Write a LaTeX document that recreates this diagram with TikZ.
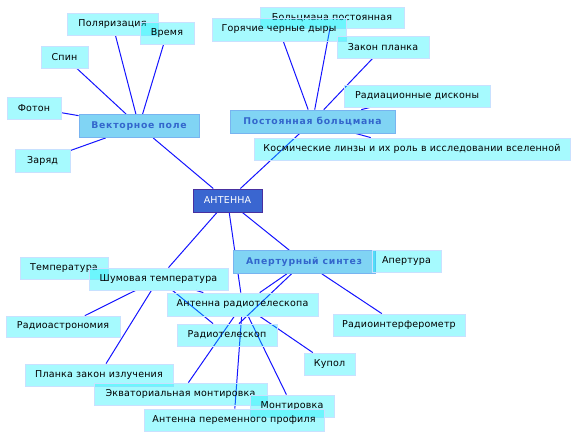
\documentclass[tikz,border=0pt]{standalone}
\usepackage{fontspec}
\setmainfont{DejaVu Sans}[LetterSpace=2]
\newfontfamily\topicfont[LetterSpace=8]{DejaVu Sans}
\usetikzlibrary{positioning}
\definecolor{leafcolor}{RGB}{0,240,252}
\definecolor{leafborder}{RGB}{200,225,255}
\definecolor{topiccolor}{RGB}{128,212,244}
\definecolor{topicborder}{RGB}{120,180,240}
\definecolor{topictext}{RGB}{51,102,204}
\definecolor{rootcolor}{RGB}{58,102,208}
\definecolor{rootborder}{RGB}{72,48,160}
\definecolor{linkcolor}{RGB}{20,20,255}
\pgfdeclarelayer{bg}
\pgfsetlayers{bg,main}

\begin{document}
\begin{tikzpicture}[x=1pt,y=-1pt,
    leaf/.style={fill=leafcolor,fill opacity=0.35,text opacity=1,draw=leafborder,line width=0.8pt,
      inner sep=0pt,minimum height=22pt,font=\fontsize{9.5}{10}\selectfont},
    topic/.style={fill=topiccolor,draw=topicborder,line width=0.8pt,text=topictext,
      inner sep=0pt,minimum height=23pt,font=\topicfont\bfseries\fontsize{9.3}{10}\selectfont},
    root/.style={fill=rootcolor,draw=rootborder,line width=1pt,text=white,
      inner sep=0pt,minimum height=23pt,font=\fontsize{9.5}{10}\selectfont},
    link/.style={draw=linkcolor,line width=1pt}]
  \useasboundingbox (0,0) rectangle (576,437);
  % Centre
  \node[root,minimum width=69pt] (antenna) at (227.5,200.5) {АНТЕННА};
  % Topics
  \node[topic,minimum width=120pt] (vecfield) at (139,126) {Векторное поле};
  \node[topic,minimum width=165pt] (boltz) at (312.5,121.5) {Постоянная больцмана};
  \node[topic,minimum width=142pt] (apsynth) at (304,262) {Апертурный синтез};
  % Upper left
  \node[leaf,minimum width=91pt] (polar) at (112.5,24) {Поляризация};
  \node[leaf,minimum width=54pt] (time) at (167,33) {Время};
  \node[leaf,minimum width=47pt] (spin) at (64.5,57) {Спин};
  \node[leaf,minimum width=54pt] (photon) at (34,108) {Фотон};
  \node[leaf,minimum width=55pt,minimum height=23pt] (charge) at (42.5,160.5) {Заряд};
  % Upper right
  \node[leaf,minimum width=144pt,minimum height=21pt] (boltzconst) at (332,17.5) {Больцмана постоянная};
  \node[leaf,minimum width=134pt,minimum height=23pt] (blackholes) at (279,29.5) {Горячие черные дыры};
  \node[leaf,minimum width=92pt] (plancklaw) at (383,47.5) {Закон планка};
  \node[leaf,minimum width=146pt] (raddisc) at (417,96) {Радиационные дисконы};
  \node[leaf,minimum width=316pt] (lenses) at (412,149) {Космические линзы и их роль в исследовании вселенной};
  % Lower part
  \node[leaf,minimum width=88pt] (temp) at (64,268) {Температура};
  \node[leaf,minimum width=139pt] (noisetemp) at (158.5,279) {Шумовая температура};
  \node[leaf,minimum width=69pt] (aperture) at (406.5,261) {Апертура};
  \node[leaf,minimum width=151pt,minimum height=23pt] (rtantenna) at (242.5,304.5) {Антенна радиотелескопа};
  \node[leaf,minimum width=114pt,minimum height=21pt] (radastro) at (63,326.5) {Радиоастрономия};
  \node[leaf,minimum width=100pt] (radtel) at (227,335) {Радиотелескоп};
  \node[leaf,minimum width=132pt] (interf) at (399,325) {Радиоинтерферометр};
  \node[leaf,minimum width=51pt] (dome) at (329.5,364) {Купол};
  \node[leaf,minimum width=148pt] (radlaw) at (99,375) {Планка закон излучения};
  \node[leaf,minimum width=173pt] (equat) at (180.5,394) {Экваториальная монтировка};
  \node[leaf,minimum width=84pt] (mount) at (292,406) {Монтировка};
  \node[leaf,minimum width=180pt] (varprof) at (234,420) {Антенна переменного профиля};
  % Links
  \begin{pgfonlayer}{bg}
    \draw[link] (vecfield) -- (antenna);
    \draw[link] (boltz) -- (antenna);
    \draw[link] (antenna) -- (noisetemp);
    \draw[link] (antenna) -- (rtantenna);
    \draw[link] (antenna) -- (apsynth);
    \draw[link] (polar) -- (vecfield);
    \draw[link] (time) -- (vecfield);
    \draw[link] (spin) -- (vecfield);
    \draw[link] (photon) -- (vecfield);
    \draw[link] (charge) -- (vecfield);
    \draw[link] (blackholes) -- (boltz);
    \draw[link] (boltzconst) -- (boltz);
    \draw[link] (plancklaw) -- (boltz);
    \draw[link] (raddisc) -- (boltz);
    \draw[link] (lenses) -- (boltz);
    \draw[link] (noisetemp) -- (radastro);
    \draw[link] (noisetemp) -- (radlaw);
    \draw[link] (noisetemp) -- (radtel);
    \draw[link] (noisetemp) -- (rtantenna);
    \draw[link] (apsynth) -- (rtantenna);
    \draw[link] (apsynth) -- (radtel);
    \draw[link] (apsynth) -- (interf);
    \draw[link] (rtantenna) -- (equat);
    \draw[link] (rtantenna) -- (varprof);
    \draw[link] (rtantenna) -- (mount);
    \draw[link] (rtantenna) -- (dome);
  \end{pgfonlayer}
\end{tikzpicture}
\end{document}
